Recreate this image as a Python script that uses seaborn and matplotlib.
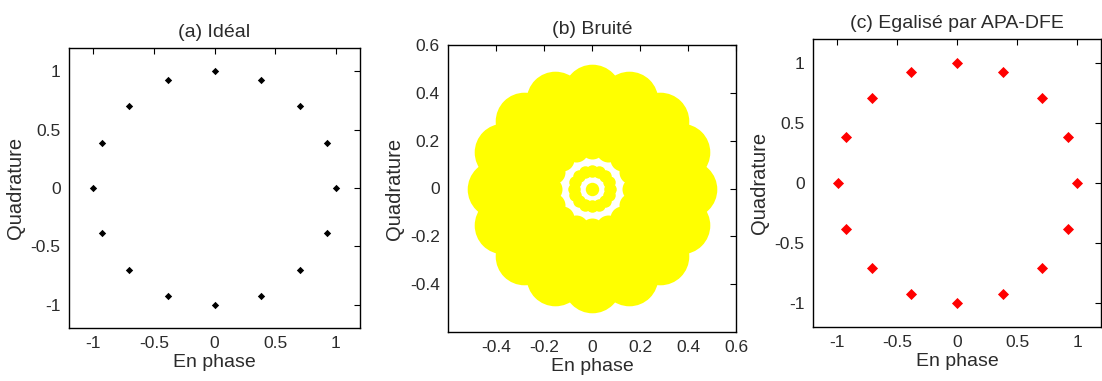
import numpy as np
import pandas as pd
import matplotlib
matplotlib.use("Agg")
import matplotlib.pyplot as plt
import seaborn as sns

# ---------------- data ----------------
# 16-PSK ideal constellation
ideal_I = [1.0, 0.924, 0.707, 0.383, 0.0, -0.383, -0.707, -0.924,
           -1.0, -0.924, -0.707, -0.383, 0.0, 0.383, 0.707, 0.924]
ideal_Q = [0.0, 0.383, 0.707, 0.924, 1.0, 0.924, 0.707, 0.383,
           0.0, -0.383, -0.707, -0.924, -1.0, -0.924, -0.707, -0.383]

# equalized constellation (panel c)
eq_I = [1.0, 0.924, 0.707, 0.383, 0.0, -0.383, -0.707, -0.924,
        -0.99, -0.924, -0.707, -0.383, 0.0, 0.383, 0.707, 0.924]
eq_Q = [0.0, 0.383, 0.707, 0.924, 1.0, 0.924, 0.707, 0.383,
        0.0, -0.383, -0.707, -0.924, -1.0, -0.924, -0.707, -0.383]

# noisy cloud (panel b) described as rings of disc-shaped clusters
cluster_angles_deg = [0, 22.5, 45, 67.5, 90, 112.5, 135, 157.5,
                      180, 202.5, 225, 247.5, 270, 292.5, 315, 337.5]
ring_radius = [0.40, 0.27, 0.175, 0.075, 0.0]
ring_offset_deg = [0.0, 11.25, 0.0, 0.0, 0.0]
ring_disc_radius = [0.12, 0.12, 0.05, 0.026, 0.028]

# ---------------- style ----------------
sns.set_theme(style="white")
plt.rcParams['font.family'] = ['Liberation Sans', 'DejaVu Sans']
txt = '#2b2b2b'

W, H = 1102, 381
fig = plt.figure(figsize=(W / 100, H / 100), dpi=100)

pos_a = [69 / W, 1 - 328 / H, 291 / W, 280 / H]
pos_b = [448 / W, 1 - 332 / H, 288 / W, 287 / H]
pos_c = [813 / W, 1 - 327 / H, 288 / W, 288 / H]

ax_a = fig.add_axes(pos_a)
ax_b = fig.add_axes(pos_b)
ax_c = fig.add_axes(pos_c)


def style_axes(ax, title, xlim, ylim, xticks, yticks, fmt):
    ax.set_xlim(*xlim)
    ax.set_ylim(*ylim)
    ax.set_xticks(xticks)
    ax.set_yticks(yticks)
    ax.set_xticklabels([fmt(v) for v in xticks])
    ax.set_yticklabels([fmt(v) for v in yticks])
    ax.tick_params(direction='in', length=4, width=0.8, top=True, right=True,
                   labelsize=12.5, colors='black', labelcolor=txt, pad=6)
    for s in ax.spines.values():
        s.set_visible(True)
        s.set_color('black')
        s.set_linewidth(1.0)
    ax.set_title(title, fontsize=14, color=txt, pad=8)
    ax.set_xlabel('En phase', fontsize=14, color=txt, labelpad=2)
    ax.set_ylabel('Quadrature', fontsize=14.5, color=txt, labelpad=4)
    ax.grid(False)
    ax.set_facecolor('white')


def fmt_a(v):
    if abs(v) < 1e-9:
        return '0'
    return '%g' % v


def fmt_b(v):
    if abs(v) < 1e-9:
        return '0'
    return '%.1f' % v


# panel a
df_a = pd.DataFrame({'I': ideal_I, 'Q': ideal_Q})
sns.scatterplot(data=df_a, x='I', y='Q', ax=ax_a, marker='D', s=14,
                color='black', linewidth=0)
style_axes(ax_a, '(a) Idéal', (-1.2, 1.2), (-1.2, 1.2),
           [-1, -0.5, 0, 0.5, 1], [-1, -0.5, 0, 0.5, 1], fmt_a)

# panel b
ticks_b = [-0.4, -0.2, 0, 0.2, 0.4, 0.6]
style_axes(ax_b, '(b) Bruité', (-0.6, 0.6), (-0.6, 0.6), ticks_b, ticks_b, fmt_b)
pts_per_unit = pos_b[2] * (W / 100) * 72 / 1.2
for rr, off, dr in zip(ring_radius, ring_offset_deg, ring_disc_radius):
    ang = np.deg2rad(np.array(cluster_angles_deg) + off)
    if rr == 0:
        ang = ang[:1]
    dfb = pd.DataFrame({'I': rr * np.cos(ang), 'Q': rr * np.sin(ang)})
    size = (2 * dr * pts_per_unit) ** 2
    sns.scatterplot(data=dfb, x='I', y='Q', ax=ax_b, marker='o', s=size,
                    color='#ffff00', linewidth=0)
ax_b.set_xlabel('En phase', fontsize=14, color=txt, labelpad=2)
ax_b.set_ylabel('Quadrature', fontsize=14.5, color=txt, labelpad=4)

# panel c
df_c = pd.DataFrame({'I': eq_I, 'Q': eq_Q})
sns.scatterplot(data=df_c, x='I', y='Q', ax=ax_c, marker='D', s=32,
                color='#ff0000', linewidth=0)
style_axes(ax_c, '(c) Egalisé par APA-DFE', (-1.2, 1.2), (-1.2, 1.2),
           [-1, -0.5, 0, 0.5, 1], [-1, -0.5, 0, 0.5, 1], fmt_a)

fig.savefig('out.png', dpi=100, facecolor='white')
